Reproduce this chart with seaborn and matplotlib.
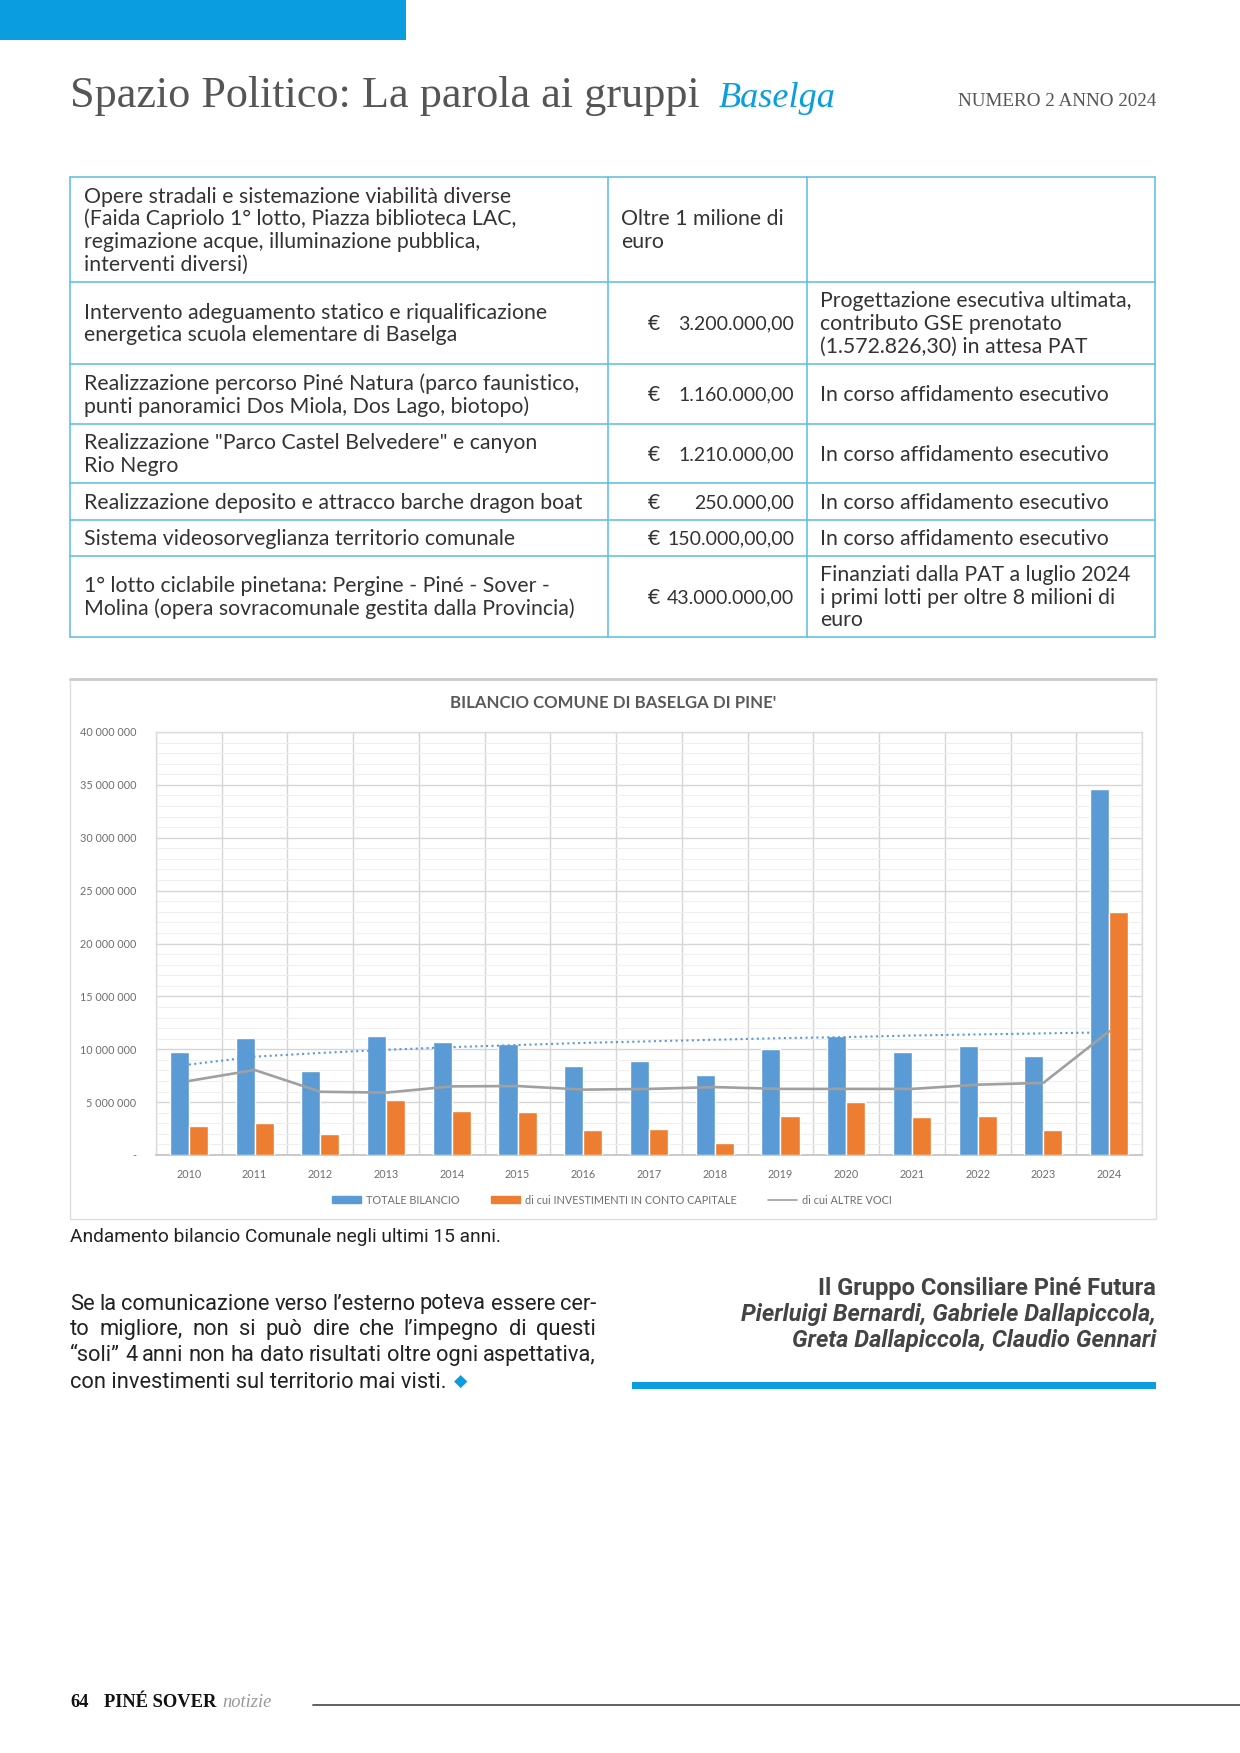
import numpy as np
import pandas as pd
import matplotlib
matplotlib.use("Agg")
import matplotlib.pyplot as plt
import seaborn as sns
from matplotlib import font_manager as fm
from matplotlib.patches import Rectangle
from matplotlib.lines import Line2D
from matplotlib.ticker import MultipleLocator, FixedLocator, FuncFormatter

# ---------------- data ----------------
years = ["2010", "2011", "2012", "2013", "2014", "2015", "2016", "2017",
         "2018", "2019", "2020", "2021", "2022", "2023", "2024"]
totale_bilancio = [9730000, 11050000, 7940000, 11250000, 10640000, 10470000, 8380000, 8850000,
                   7600000, 10000000, 11250000, 9760000, 10300000, 9320000, 34600000]
investimenti = [2700000, 3000000, 1960000, 5240000, 4160000, 4020000, 2330000, 2500000,
                1180000, 3720000, 4970000, 3550000, 3720000, 2360000, 22950000]
altre_voci = [7000000, 8040000, 5980000, 5900000, 6490000, 6520000, 6180000, 6250000,
              6420000, 6250000, 6250000, 6250000, 6650000, 6820000, 11700000]
trend_totale = [8550000, 9300000, 9650000, 9950000, 10200000, 10400000, 10600000, 10750000,
                10900000, 11050000, 11150000, 11300000, 11400000, 11500000, 11600000]
series_labels = ["TOTALE BILANCIO", "di cui INVESTIMENTI IN CONTO CAPITALE", "di cui ALTRE VOCI"]
chart_title = "BILANCIO COMUNE DI BASELGA DI PINE'"

table_col1 = [
    ["Opere stradali e sistemazione viabilità diverse",
     "(Faida Capriolo 1° lotto, Piazza biblioteca LAC,",
     "regimazione acque, illuminazione pubblica,",
     "interventi diversi)"],
    ["Intervento adeguamento statico e riqualificazione",
     "energetica scuola elementare di Baselga"],
    ["Realizzazione percorso Piné Natura (parco faunistico,",
     "punti panoramici Dos Miola, Dos Lago, biotopo)"],
    ["Realizzazione \"Parco Castel Belvedere\" e canyon",
     "Rio Negro"],
    ["Realizzazione deposito e attracco barche dragon boat"],
    ["Sistema videosorveglianza territorio comunale"],
    ["1° lotto ciclabile pinetana: Pergine - Piné - Sover -",
     "Molina (opera sovracomunale gestita dalla Provincia)"],
]
table_col2 = [
    ["Oltre 1 milione di", "euro"],
    ["3.200.000,00"], ["1.160.000,00"], ["1.210.000,00"],
    ["250.000,00"], ["150.000,00,00"], ["43.000.000,00"],
]
table_col3 = [
    [],
    ["Progettazione esecutiva ultimata,", "contributo GSE prenotato", "(1.572.826,30) in attesa PAT"],
    ["In corso affidamento esecutivo"],
    ["In corso affidamento esecutivo"],
    ["In corso affidamento esecutivo"],
    ["In corso affidamento esecutivo"],
    ["Finanziati dalla PAT a luglio 2024", "i primi lotti per oltre 8 milioni di", "euro"],
]

body_lines = [
    "Se la comunicazione verso l’esterno poteva essere cer-",
    "to migliore, non si può dire che l’impegno di questi",
    "“soli” 4 anni non ha dato risultati oltre ogni aspettativa,",
    "con investimenti sul territorio mai visti.",
]
signature = ["Il Gruppo Consiliare Piné Futura",
             "Pierluigi Bernardi, Gabriele Dallapiccola,",
             "Greta Dallapiccola, Claudio Gennari"]
caption = "Andamento bilancio Comunale negli ultimi 15 anni."

# ---------------- style ----------------
BLUE = "#5B9BD5"
ORANGE = "#ED7D31"
GRAY = "#A0A0A0"
CYAN = "#0A9EE0"
TBL = "#5BBCE4"
TXT = "#333333"

sns.set_theme(style="white")
names = {f.name for f in fm.fontManager.ttflist}
NARROW = "Liberation Sans Narrow" if "Liberation Sans Narrow" in names else "Roboto"
SANS = "Lato" if "Lato" in names else "DejaVu Sans"
SERIF = "Liberation Serif" if "Liberation Serif" in names else "DejaVu Serif"
plt.rcParams["font.family"] = [SANS, "DejaVu Sans"]

W, H = 1240, 1753
fig = plt.figure(figsize=(W / 100, H / 100), dpi=100)
fig.patch.set_facecolor("white")
ax0 = fig.add_axes([0, 0, 1, 1], zorder=0)
ax0.set_xlim(0, W)
ax0.set_ylim(H, 0)
ax0.axis("off")
R = fig.canvas.get_renderer()


def width_of(s, **kw):
    t = ax0.text(0, 0, s, **kw)
    w = t.get_window_extent(R).width
    t.remove()
    return w


def fit(s, target, **kw):
    return 20 * target / width_of(s, fontsize=20, **kw)


# ---------------- header ----------------
ax0.add_patch(Rectangle((0, 0), 406, 40, color=CYAN, lw=0))
fs_title = fit("Spazio Politico: La parola ai gruppi", 631, family=SERIF)
ax0.text(70, 107, "Spazio Politico: La parola ai gruppi", family=SERIF, fontsize=fs_title,
         color="#555555", va="baseline")
ax0.text(719, 107, "Baselga", family=SERIF, style="italic", fontsize=fit("Baselga", 117, family=SERIF, style="italic"),
         color=CYAN, va="baseline")
ax0.text(1156, 106, "NUMERO 2 ANNO 2024", family=SERIF,
         fontsize=fit("NUMERO 2 ANNO 2024", 199, family=SERIF), color="#555555",
         ha="right", va="baseline")

# ---------------- table ----------------
rows_y = [177, 282, 364, 424, 483, 520, 556, 637]
cols_x = [70, 608, 807, 1155]
for y in rows_y:
    ax0.plot([cols_x[0], cols_x[-1]], [y, y], color=TBL, lw=1.1)
for x in cols_x:
    ax0.plot([x, x], [rows_y[0], rows_y[-1]], color=TBL, lw=1.1)

fs_tab = fit("Realizzazione deposito e attracco barche dragon boat", 497, family=SANS)
fs_amt = min(fs_tab, fit("43.000.000,00", 127, family=SANS))
LS = 22.6


def cell_lines(lines, x, yc, ha="left", fs=None):
    n = len(lines)
    for i, s in enumerate(lines):
        y = yc + (i - (n - 1) / 2) * LS
        ax0.text(x, y, s, family=SANS, fontsize=fs or fs_tab, color=TXT, ha=ha, va="center")


for i in range(len(table_col1)):
    yc = (rows_y[i] + rows_y[i + 1]) / 2 + 1
    cell_lines(table_col1[i], 84, yc)
    c2 = table_col2[i]
    if c2[0][0].isdigit():
        ax0.text(648, yc, "€", family=SANS, fontsize=fs_tab, color=TXT, ha="left", va="center")
        cell_lines(c2, 794, yc, ha="right", fs=fs_amt)
    else:
        cell_lines(c2, 621, yc)
    if table_col3[i]:
        cell_lines(table_col3[i], 820, yc)

# ---------------- chart frame ----------------
ax0.add_patch(Rectangle((70, 679), 1086, 540, facecolor="white", edgecolor="#dedede", lw=1))
ax0.plot([70, 1156], [679, 679], color="#cccccc", lw=2)
ax0.text(613, 703, chart_title, family=SANS, fontweight="bold",
         fontsize=fit(chart_title, 326, family=SANS, fontweight="bold"),
         color="#595959", ha="center", va="center")

# ---------------- chart ----------------
px0, px1, py0, py1 = 156, 1142, 732, 1155
ax = fig.add_axes([px0 / W, 1 - py1 / H, (px1 - px0) / W, (py1 - py0) / H], zorder=2)
df = pd.DataFrame({
    "anno": years * 2,
    "valore": totale_bilancio + investimenti,
    "serie": [series_labels[0]] * len(years) + [series_labels[1]] * len(years),
})
sns.barplot(data=df, x="anno", y="valore", hue="serie", palette=[BLUE, ORANGE],
            width=0.58, saturation=1, legend=False, ax=ax, zorder=3)
xpos = np.arange(len(years))
sns.lineplot(x=xpos, y=altre_voci, color=GRAY, lw=1.9, ax=ax, zorder=5)
sns.lineplot(x=xpos, y=trend_totale, color=BLUE, lw=1.5, linestyle=(0, (1, 1.6)), ax=ax, zorder=4)

ax.set_xlim(-0.5, len(years) - 0.5)
ax.set_ylim(0, 40000000)
ax.set_xlabel("")
ax.set_ylabel("")
ax.set_xticks(xpos)
ax.set_xticklabels(years)
ax.yaxis.set_major_locator(MultipleLocator(5000000))
ax.yaxis.set_minor_locator(MultipleLocator(1000000))
ax.yaxis.set_major_formatter(FuncFormatter(
    lambda v, p: "-" if v == 0 else f"{int(v):,}".replace(",", " ")))
ax.xaxis.set_minor_locator(FixedLocator(np.arange(-0.5, len(years), 1.0)))
ax.grid(which="major", axis="y", color="#d6d6d6", lw=1, zorder=0)
ax.grid(which="minor", axis="y", color="#efefef", lw=0.8, zorder=0)
ax.grid(which="minor", axis="x", color="#d6d6d6", lw=1, zorder=0)
ax.grid(which="major", axis="x", visible=False)
ax.set_axisbelow(True)
ax.tick_params(axis="both", which="both", length=0, colors="#6e6e6e", labelsize=7.8)
ax.tick_params(axis="x", pad=10)
ax.tick_params(axis="y", pad=14)
for s in ["top", "right", "left"]:
    ax.spines[s].set_color("#dcdcdc")
    ax.spines[s].set_linewidth(1)
ax.spines["bottom"].set_color("#c4c4c4")
ax.set_facecolor("white")

handles = [Rectangle((0, 0), 1, 1, color=BLUE), Rectangle((0, 0), 1, 1, color=ORANGE),
           Line2D([0], [0], color=GRAY, lw=1.2)]
fig.legend(handles, series_labels, loc="center", bbox_to_anchor=(612 / W, 1 - 1200 / H),
           ncol=3, frameon=False, fontsize=7.8, handlelength=2.7, handleheight=0.55,
           columnspacing=2.9, handletextpad=0.45, labelcolor="#6e6e6e")

# ---------------- caption & body ----------------
ax0.text(70, 1237, caption, family=NARROW, fontsize=fit(caption, 430, family=NARROW),
         color="#222222", va="center")

fs_body = fit(body_lines[3], 375, family=NARROW)
body_y = [1304, 1329.5, 1355.5, 1382]
for k, line in enumerate(body_lines):
    y = body_y[k]
    if k < len(body_lines) - 1:
        words = line.split(" ")
        ts = [ax0.text(0, y, w_, family=NARROW, fontsize=fs_body, color="#222222", va="center")
              for w_ in words]
        ws = [t.get_window_extent(R).width for t in ts]
        gap = (596 - 70 - sum(ws)) / (len(words) - 1)
        x = 70
        for t, w_ in zip(ts, ws):
            t.set_x(x)
            x += w_ + gap
    else:
        t = ax0.text(70, y, line, family=NARROW, fontsize=fs_body, color="#222222", va="center")
        wl = t.get_window_extent(R).width
        ax0.text(70 + wl + 7, y, "◆", family="DejaVu Sans", fontsize=fs_body * 0.8,
                 color=CYAN, va="center")

fs_sig = fit(signature[1], 414, family=NARROW, fontweight="bold", style="italic")
ax0.text(1156, 1288, signature[0], family=NARROW, fontweight="bold", fontsize=fs_sig,
         color="#444444", ha="right", va="center")
for k, yy in zip([1, 2], [1314, 1340.5]):
    ax0.text(1156, yy, signature[k], family=NARROW, fontweight="bold", style="italic",
             fontsize=fs_sig, color="#444444", ha="right", va="center")
ax0.add_patch(Rectangle((632, 1382), 524, 7, color=CYAN, lw=0))

# ---------------- footer ----------------
fs_foot = fit("PINÉ SOVER", 112, family=SERIF, fontweight="bold")
ax0.text(70, 1707, "64", family=SERIF, fontweight="bold", fontsize=fs_foot, color="#111111", va="baseline")
ax0.text(104, 1707, "PINÉ SOVER", family=SERIF, fontweight="bold", fontsize=fs_foot, color="#111111", va="baseline")
ax0.text(222, 1707, "notizie", family=SERIF, style="italic", fontsize=fs_foot,
         color="#9a9a9a", va="baseline")
ax0.plot([313, 1240], [1705, 1705], color="#555555", lw=1.3)

fig.savefig("out.png", dpi=100, facecolor="white")
